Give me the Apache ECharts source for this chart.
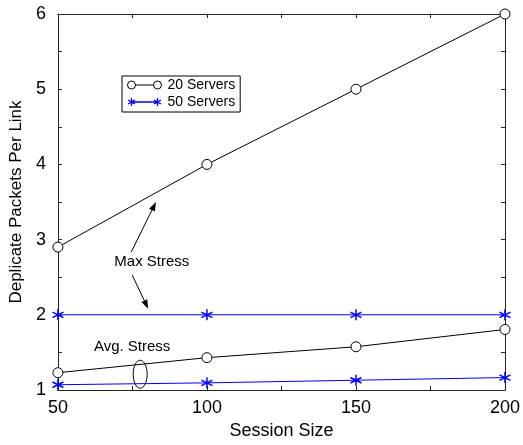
<!DOCTYPE html>
<html>
<head>
<meta charset="utf-8">
<script src="https://cdn.jsdelivr.net/npm/echarts@6/dist/echarts.min.js"></script>
<style>html,body{margin:0;padding:0;background:#fff}#c{width:523px;height:445px}</style>
</head>
<body>
<div id="c"></div>
<script>
var sessionSizes = [50, 100, 150, 200];
var max20 = [2.9, 4.0, 5.0, 6.0];
var max50 = [2.0, 2.0, 2.0, 2.0];
var avg20 = [1.23, 1.43, 1.575, 1.805];
var avg50 = [1.07, 1.095, 1.13, 1.165];
var xTicks = [50, 100, 150, 200];
var yTicks = [1, 2, 3, 4, 5, 6];

var FONT = 'Liberation Sans, Arial, sans-serif';
var star = 'path://M5,0 L5,10 M0.7,2.5 L9.3,7.5 M0.7,7.5 L9.3,2.5';
var legCircle = 'path://M0,4 A4,4 0 1,0 8,4 A4,4 0 1,0 0,4 Z M8,4 L26,4 M26,4 A4,4 0 1,0 34,4 A4,4 0 1,0 26,4 Z';
var legStar = 'path://M4,4 L30,4 M4,0 L4,8 M0.5,2 L7.5,6 M0.5,6 L7.5,2 M30,0 L30,8 M26.5,2 L33.5,6 M26.5,6 L33.5,2';

function pairs(xs, ys) { return xs.map(function (x, i) { return [x, ys[i]]; }); }

var chart = echarts.init(document.getElementById('c'), null, { renderer: 'canvas' });

function mkSeries(name, data, color, isStar) {
  return {
    name: name, type: 'line', data: pairs(sessionSizes, data),
    symbol: isStar ? star : 'circle',
    symbolSize: isStar ? 11 : 10,
    showSymbol: true,
    lineStyle: { color: color, width: 1 },
    itemStyle: isStar ? { color: 'none', borderColor: color, borderWidth: 1.5 } : { color: '#fff', borderColor: color, borderWidth: 1 },
    emphasis: { disabled: true },
    animation: false,
    z: 3
  };
}

var axisCommonX = {
  type: 'value', min: 50, max: 200, interval: 50,
  axisLine: { show: true, onZero: false, lineStyle: { color: '#222', width: 1 } },
  axisTick: { show: true, inside: true, length: 4, lineStyle: { color: '#222' } },
  minorTick: { show: true, splitNumber: 2, length: 4, lineStyle: { color: '#222' } },
  splitLine: { show: false }
};
var axisCommonY = {
  type: 'value', min: 1, max: 6, interval: 1,
  axisLine: { show: true, onZero: false, lineStyle: { color: '#222', width: 1 } },
  axisTick: { show: true, inside: true, length: 4, lineStyle: { color: '#222' } },
  minorTick: { show: true, splitNumber: 2, length: 4, lineStyle: { color: '#222' } },
  splitLine: { show: false }
};

chart.setOption({
  backgroundColor: '#fff',
  animation: false,
  grid: { left: 56, right: 16, top: 14, bottom: 55, containLabel: false },
  legend: {
    left: 122, top: 76, orient: 'vertical',
    padding: [2, 5, 3, 3], itemGap: 3,
    itemWidth: 34, itemHeight: 8,
    borderColor: '#000', borderWidth: 1, backgroundColor: '#fff',
    textStyle: { fontFamily: FONT, fontSize: 14, color: '#000', padding: [0, 0, 0, 1] },
    selectedMode: false,
    data: [
      { name: '20 Servers', icon: legCircle, itemStyle: { color: 'none', borderColor: '#000', borderWidth: 1 } },
      { name: '50 Servers', icon: legStar, itemStyle: { color: 'none', borderColor: '#0000ff', borderWidth: 1.3 } }
    ]
  },
  xAxis: [
    Object.assign({}, axisCommonX, {
      position: 'bottom',
      name: 'Session Size', nameLocation: 'middle', nameGap: 30,
      nameTextStyle: { fontFamily: FONT, fontSize: 18, color: '#000' },
      axisLabel: { show: true, margin: 9, fontFamily: FONT, fontSize: 18, color: '#000' }
    }),
    Object.assign({}, axisCommonX, { position: 'top', axisLabel: { show: false } })
  ],
  yAxis: [
    Object.assign({}, axisCommonY, {
      position: 'left',
      name: 'Deplicate Packets Per Link', nameLocation: 'middle', nameGap: 28,
      nameTextStyle: { fontFamily: FONT, fontSize: 17, color: '#000' },
      axisLabel: { show: true, margin: 12, fontFamily: FONT, fontSize: 18, color: '#000' }
    }),
    Object.assign({}, axisCommonY, { position: 'right', axisLabel: { show: false } })
  ],
  series: [
    mkSeries('20 Servers', max20, '#000', false),
    mkSeries('20 Servers', avg20, '#000', false),
    mkSeries('50 Servers', max50, '#0000ff', true),
    mkSeries('50 Servers', avg50, '#0000ff', true)
  ]
});

function px(x, y) { return chart.convertToPixel({ xAxisIndex: 0, yAxisIndex: 0 }, [x, y]); }
function arrow(from, to) {
  var a = px(from[0], from[1]), b = px(to[0], to[1]);
  var dx = b[0] - a[0], dy = b[1] - a[1], L = Math.sqrt(dx * dx + dy * dy);
  var ux = dx / L, uy = dy / L, hl = 9, hw = 3.2;
  var bx = b[0] - ux * hl, by = b[1] - uy * hl;
  return [
    { type: 'line', shape: { x1: a[0], y1: a[1], x2: bx, y2: by }, style: { stroke: '#000', lineWidth: 1 }, z: 10 },
    { type: 'polygon', shape: { points: [[b[0], b[1]], [bx - uy * hw, by + ux * hw], [bx + uy * hw, by - ux * hw]] }, style: { fill: '#000' }, z: 10 }
  ];
}
var tMax = px(81.5, 2.71), tAvg = px(74.9, 1.57), ell = px(77.6, 1.21);
var g = [].concat(
  arrow([74.6, 2.835], [82.9, 3.5]),
  arrow([74.9, 2.53], [80.3, 2.08]),
  [
    { type: 'text', x: tMax[0], y: tMax[1], style: { text: 'Max Stress', fontFamily: FONT, fontSize: 15, fill: '#000', align: 'center', verticalAlign: 'middle' }, z: 10 },
    { type: 'text', x: tAvg[0], y: tAvg[1], style: { text: 'Avg. Stress', fontFamily: FONT, fontSize: 15, fill: '#000', align: 'center', verticalAlign: 'middle' }, z: 10 },
    { type: 'ellipse', shape: { cx: ell[0], cy: ell[1], rx: 7, ry: 14 }, style: { fill: 'none', stroke: '#000', lineWidth: 1 }, z: 10 }
  ]
);
chart.setOption({ graphic: g });
</script>
</body>
</html>
